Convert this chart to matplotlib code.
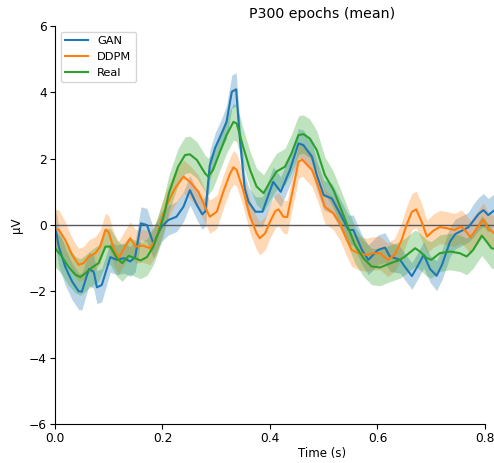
import matplotlib
matplotlib.use("Agg")
import matplotlib.pyplot as plt
import numpy as np

# ---- data ----
gan_t = [0.000, 0.007, 0.019, 0.032, 0.044, 0.050, 0.063, 0.072, 0.078, 0.087,
         0.103, 0.115, 0.128, 0.140, 0.149, 0.160, 0.171, 0.183, 0.198, 0.211,
         0.226, 0.239, 0.251, 0.264, 0.274, 0.280, 0.288, 0.298, 0.310, 0.319,
         0.329, 0.337, 0.344, 0.353, 0.360, 0.373, 0.386, 0.397, 0.406, 0.420,
         0.437, 0.453, 0.462, 0.478, 0.487, 0.500, 0.515, 0.530, 0.546, 0.555,
         0.571, 0.583, 0.592, 0.601, 0.614, 0.623, 0.642, 0.651, 0.664, 0.676,
         0.686, 0.698, 0.710, 0.720, 0.735, 0.745, 0.757, 0.769, 0.778, 0.788,
         0.797, 0.806, 0.818]
gan_v = [0.0, -0.65, -1.26, -1.71, -2.0, -2.01, -1.33, -1.41, -1.88, -1.81,
         -0.97, -1.05, -1.0, -1.1, -0.97, 0.05, 0.0, -0.55, -0.05, 0.15,
         0.25, 0.55, 1.05, 0.6, 0.32, 0.42, 1.8, 2.33, 2.76, 3.1,
         4.02, 4.09, 2.6, 1.1, 0.7, 0.4, 0.4, 0.9, 1.3, 1.0,
         1.66, 2.46, 2.41, 2.06, 1.51, 0.9, 0.8, 0.35, -0.15, -0.15,
         -0.75, -1.05, -0.9, -0.75, -0.68, -0.95, -1.05, -1.26, -1.54, -1.2,
         -0.9, -1.33, -1.53, -1.2, -0.5, -0.27, -0.17, -0.07, 0.12, 0.33,
         0.45, 0.3, 0.45]
gan_ci = [0.6, 0.6, 0.55, 0.55, 0.55, 0.55, 0.5, 0.5, 0.5, 0.5,
          0.45, 0.45, 0.45, 0.45, 0.45, 0.5, 0.5, 0.45, 0.45, 0.45,
          0.45, 0.45, 0.45, 0.45, 0.45, 0.45, 0.45, 0.45, 0.45, 0.5,
          0.5, 0.5, 0.5, 0.45, 0.45, 0.45, 0.45, 0.45, 0.45, 0.45,
          0.45, 0.45, 0.45, 0.45, 0.45, 0.45, 0.45, 0.45, 0.45, 0.45,
          0.45, 0.45, 0.45, 0.45, 0.45, 0.45, 0.4, 0.4, 0.4, 0.4,
          0.4, 0.4, 0.45, 0.45, 0.45, 0.45, 0.45, 0.45, 0.5, 0.5,
          0.5, 0.5, 0.5]

ddpm_t = [0.000, 0.007, 0.019, 0.032, 0.044, 0.053, 0.063, 0.075, 0.084, 0.094,
          0.100, 0.109, 0.118, 0.128, 0.140, 0.150, 0.163, 0.177, 0.189, 0.198,
          0.208, 0.223, 0.239, 0.251, 0.267, 0.279, 0.288, 0.301, 0.313, 0.326,
          0.332, 0.338, 0.350, 0.363, 0.375, 0.381, 0.391, 0.400, 0.410, 0.416,
          0.425, 0.432, 0.443, 0.453, 0.460, 0.478, 0.490, 0.502, 0.518, 0.530,
          0.543, 0.552, 0.564, 0.580, 0.592, 0.605, 0.619, 0.632, 0.645, 0.654,
          0.664, 0.672, 0.682, 0.692, 0.704, 0.716, 0.730, 0.743, 0.756, 0.766,
          0.773, 0.785, 0.797, 0.806, 0.818]
ddpm_v = [-0.14, -0.14, -0.45, -0.9, -1.2, -1.15, -0.95, -0.85, -0.65, -0.14,
          -0.22, -0.7, -1.0, -0.72, -0.4, -0.65, -0.62, -0.7, -0.38, 0.15,
          0.6, 1.1, 1.46, 1.3, 1.0, 0.55, 0.25, 0.4, 1.0, 1.56,
          1.74, 1.66, 1.06, 0.25, -0.25, -0.4, -0.25, 0.1, 0.42, 0.47,
          0.25, 0.24, 1.1, 1.91, 1.97, 1.66, 1.16, 0.55, 0.35, 0.05,
          -0.45, -0.75, -0.85, -0.9, -0.85, -0.85, -1.05, -0.9, -0.45, 0.0,
          0.4, 0.47, 0.1, -0.35, -0.17, -0.06, -0.1, -0.15, -0.05, -0.22,
          -0.37, -0.1, 0.17, -0.12, -0.25]
ddpm_ci = [0.6, 0.6, 0.55, 0.5, 0.5, 0.5, 0.5, 0.5, 0.5, 0.5,
           0.5, 0.5, 0.5, 0.5, 0.5, 0.5, 0.5, 0.5, 0.5, 0.5,
           0.5, 0.5, 0.5, 0.5, 0.5, 0.5, 0.5, 0.5, 0.5, 0.5,
           0.5, 0.5, 0.5, 0.5, 0.5, 0.5, 0.5, 0.5, 0.5, 0.5,
           0.5, 0.5, 0.5, 0.5, 0.5, 0.5, 0.5, 0.5, 0.5, 0.5,
           0.5, 0.5, 0.5, 0.5, 0.5, 0.5, 0.5, 0.5, 0.55, 0.55,
           0.55, 0.55, 0.55, 0.5, 0.5, 0.5, 0.5, 0.5, 0.5, 0.5,
           0.5, 0.5, 0.5, 0.5, 0.5]

real_t = [0.000, 0.013, 0.025, 0.038, 0.047, 0.056, 0.069, 0.081, 0.094, 0.103,
          0.115, 0.125, 0.137, 0.149, 0.159, 0.171, 0.183, 0.192, 0.202, 0.212,
          0.229, 0.242, 0.251, 0.264, 0.279, 0.285, 0.294, 0.307, 0.319, 0.332,
          0.338, 0.350, 0.363, 0.375, 0.388, 0.400, 0.412, 0.428, 0.440, 0.453,
          0.462, 0.474, 0.487, 0.502, 0.518, 0.533, 0.546, 0.558, 0.574, 0.589,
          0.605, 0.623, 0.642, 0.651, 0.670, 0.679, 0.692, 0.700, 0.716, 0.735,
          0.753, 0.766, 0.778, 0.794, 0.803, 0.812, 0.818]
real_v = [-0.7, -0.95, -1.26, -1.5, -1.57, -1.46, -1.28, -1.15, -0.65, -0.65,
          -1.0, -1.15, -0.93, -1.0, -1.07, -0.97, -0.65, -0.25, 0.25, 0.96,
          1.76, 2.11, 2.13, 1.96, 1.56, 1.46, 1.66, 2.21, 2.71, 3.11,
          3.06, 2.36, 1.66, 1.16, 0.96, 1.3, 1.61, 1.76, 2.16, 2.71,
          2.74, 2.61, 2.26, 1.51, 1.06, 0.45, -0.1, -0.6, -1.0, -1.25,
          -1.28, -1.16, -1.05, -0.95, -0.7, -0.8, -1.0, -1.05, -0.85, -0.8,
          -0.85, -0.95, -0.75, -0.32, -0.5, -0.7, -0.72]
real_ci = [0.55, 0.55, 0.55, 0.55, 0.55, 0.55, 0.55, 0.55, 0.55, 0.55,
           0.55, 0.55, 0.55, 0.55, 0.55, 0.55, 0.55, 0.55, 0.55, 0.55,
           0.55, 0.55, 0.55, 0.55, 0.55, 0.55, 0.55, 0.55, 0.55, 0.55,
           0.55, 0.55, 0.55, 0.55, 0.55, 0.55, 0.55, 0.55, 0.58, 0.58,
           0.58, 0.58, 0.58, 0.55, 0.55, 0.55, 0.55, 0.55, 0.55, 0.55,
           0.55, 0.55, 0.55, 0.55, 0.55, 0.55, 0.55, 0.55, 0.55, 0.55,
           0.55, 0.55, 0.55, 0.6, 0.6, 0.6, 0.6]

labels = ["GAN", "DDPM", "Real"]
colors = ["#1f77b4", "#ff7f0e", "#2ca02c"]
series = [(gan_t, gan_v, gan_ci), (ddpm_t, ddpm_v, ddpm_ci), (real_t, real_v, real_ci)]

yticks = [-6, -4, -2, 0, 2, 4, 6]
xticks = [0.0, 0.2, 0.4, 0.6, 0.8]

# ---- figure ----
fig = plt.figure(figsize=(4.94, 4.63), dpi=100)
W, H = 494, 463
ax = fig.add_axes([55 / W, (H - 424) / H, 534 / W, 398 / H])

for (t, v, ci), lab, col in zip(series, labels, colors):
    t = np.asarray(t); v = np.asarray(v); ci = np.asarray(ci)
    ax.fill_between(t, v - ci, v + ci, color=col, alpha=0.3, linewidth=0)
    ax.plot(t, v, color=col, lw=1.5, label=lab)

ax.axhline(0, color="0.35", lw=1.0, zorder=1)

ax.set_xlim(0, 0.9935)
ax.set_ylim(-6, 6)
ax.set_xticks(xticks)
ax.set_yticks(yticks)
ax.spines["top"].set_visible(False)
ax.spines["right"].set_visible(False)
ax.spines["bottom"].set_bounds(0, 0.8)
ax.spines["left"].set_bounds(-6, 6)
ax.tick_params(labelsize=8.8, length=3.5, pad=2.5)

ax.set_xlabel("Time (s)", fontsize=8.5, labelpad=1.5)
ax.set_ylabel("µV", fontsize=8.5)
ax.set_title("P300 epochs (mean)", fontsize=10.2)

ax.legend(loc="upper left", fontsize=8.2, frameon=True)

fig.savefig("out.png", dpi=100)
